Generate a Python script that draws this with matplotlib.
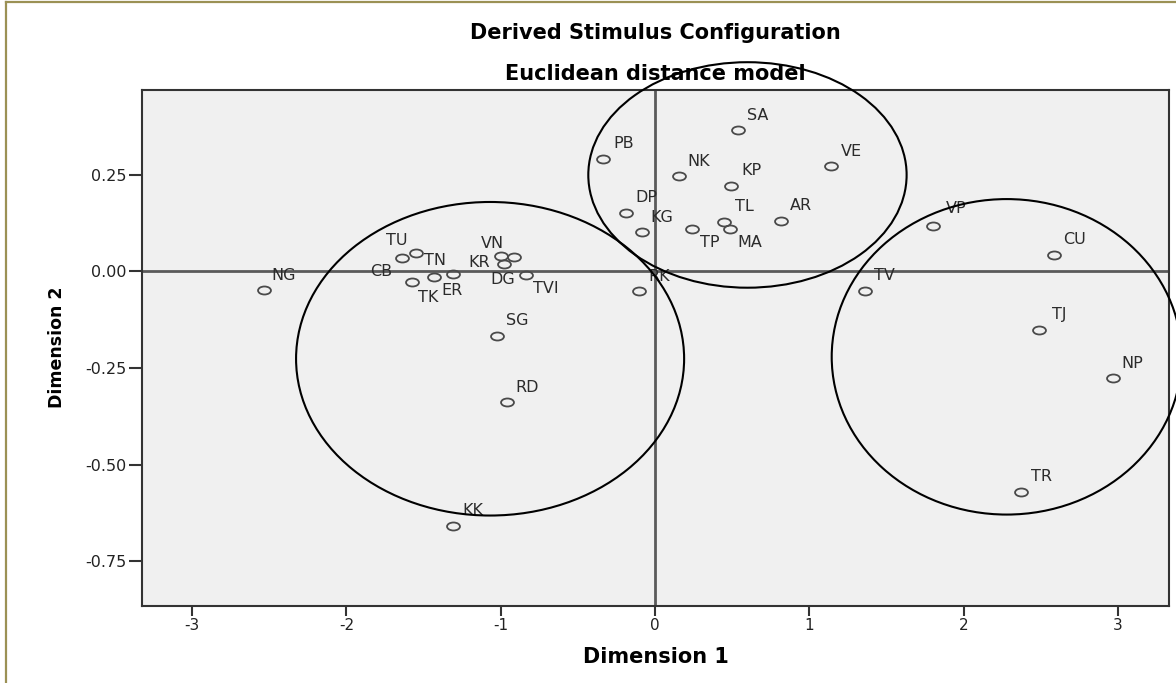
import matplotlib
matplotlib.use('Agg')
import matplotlib.pyplot as plt
from matplotlib.patches import Ellipse
from matplotlib.path import Path
from matplotlib.lines import Line2D

# stimulus coordinates
names = ['SA', 'PB', 'NK', 'KP', 'VE', 'DP', 'KG', 'TL', 'MA', 'TP', 'AR', 'RK',
         'TV', 'VP', 'CU', 'TJ', 'NP', 'TR', 'CB', 'TU', 'TK', 'TN', 'ER', 'KR',
         'VN', 'DG', 'TVI', 'SG', 'RD', 'KK', 'NG']
dim1 = [0.536, -0.335, 0.156, 0.493, 1.141, -0.188, -0.086, 0.449, 0.486, 0.242,
        0.815, -0.102, 1.360, 1.800, 2.588, 2.489, 2.966, 2.372, -1.638, -1.549,
        -1.575, -1.430, -1.307, -0.998, -0.912, -0.979, -0.838, -1.022, -0.961,
        -1.311, -2.534]
dim2 = [0.366, 0.292, 0.247, 0.222, 0.272, 0.152, 0.102, 0.129, 0.109, 0.109,
        0.132, -0.051, -0.050, 0.118, 0.043, -0.151, -0.276, -0.570, 0.036, 0.047,
        -0.028, -0.015, -0.007, 0.040, 0.038, 0.019, -0.008, -0.166, -0.338,
        -0.659, -0.048]

x_ticks = [-3, -2, -1, 0, 1, 2, 3]
y_ticks = [0.25, 0.0, -0.25, -0.5, -0.75]

# hand drawn cluster rings: (centre x, centre y, width, height) in data units
clusters = [(-1.069, -0.226, 2.515, 0.812),
            (0.599, 0.250, 2.063, 0.584),
            (2.279, -0.221, 2.268, 0.817)]

# label placement in pixels (right, down); most labels sit up and to the right
default_off = (20, -15)
label_off = {'MA': (20, 13), 'TP': (17, 13), 'CB': (-21, 14), 'TU': (-19, -13),
             'TK': (16, 15), 'TN': (1, -17), 'ER': (-1, 16), 'KR': (-22, 6),
             'VN': (-22, -13), 'DG': (-1, 15), 'TVI': (20, 14), 'VP': (23, -17)}

plt.rcParams['axes.unicode_minus'] = False
plt.rcParams['font.family'] = 'DejaVu Sans'

W, H = 1176, 683
fig = plt.figure(figsize=(W / 100, H / 100), dpi=100)
ax = fig.add_axes([142 / W, 1 - 605.5 / H, (1169 - 142) / W, (605.5 - 90) / H])
ax.set_facecolor('#f0f0f0')

ax.axhline(0, color='#5a5a5a', lw=2, zorder=1)
ax.axvline(0, color='#5a5a5a', lw=2, zorder=1)

# SPSS markers look squashed in this export, so use an oval marker
circ = Path.unit_circle()
oval = Path(circ.vertices * [1, 0.62], circ.codes)
ax.plot(dim1, dim2, linestyle='none', marker=oval, markersize=9.3,
        markerfacecolor='none', markeredgecolor='#4a4a4a', markeredgewidth=1.3,
        zorder=3)

for n, x, y in zip(names, dim1, dim2):
    dx, dy = label_off.get(n, default_off)
    ax.annotate(n, (x, y), xytext=(dx, -dy), textcoords='offset pixels',
                ha='center', va='center', fontsize=11.5, color='#2b2b2b', zorder=4)

for cx, cy, w, h in clusters:
    ax.add_patch(Ellipse((cx, cy), w, h, fill=False, edgecolor='black', lw=1.5,
                         clip_on=False, zorder=5))

ax.set_xlim(-3.325, 3.331)
ax.set_ylim(-0.865, 0.470)
ax.set_xticks(x_ticks)
ax.set_xticklabels([str(t) for t in x_ticks])
ax.set_yticks(y_ticks)
ax.set_yticklabels(['%.2f' % t for t in y_ticks])
ax.tick_params(axis='x', length=7, width=1.5, color='#333333', labelsize=11,
               labelcolor='#222222', pad=2)
ax.tick_params(axis='y', length=9.5, width=1.5, color='#333333', labelsize=11.5,
               labelcolor='#222222', pad=1.5)
for s in ax.spines.values():
    s.set_color('#333333')
    s.set_linewidth(1.5)

ax.set_xlabel('Dimension 1', fontsize=15, fontweight='bold', labelpad=10)
ax.set_ylabel('Dimension 2', fontsize=12.5, fontweight='bold', labelpad=14)

fig.text(655.5 / W, 1 - 33 / H, 'Derived Stimulus Configuration', ha='center',
         va='center', fontsize=15, fontweight='bold')
fig.text(655.5 / W, 1 - 74 / H, 'Euclidean distance model', ha='center',
         va='center', fontsize=15, fontweight='bold')

# olive frame left over from the document the chart was pasted in
olive = '#9b9155'
fig.add_artist(Line2D([6 / W, 6 / W], [0, 1 - 2 / H], color=olive, lw=1.6))
fig.add_artist(Line2D([6 / W, 1175 / W], [1 - 2 / H, 1 - 2 / H], color=olive, lw=1.6))

fig.savefig('out.png', dpi=100)
